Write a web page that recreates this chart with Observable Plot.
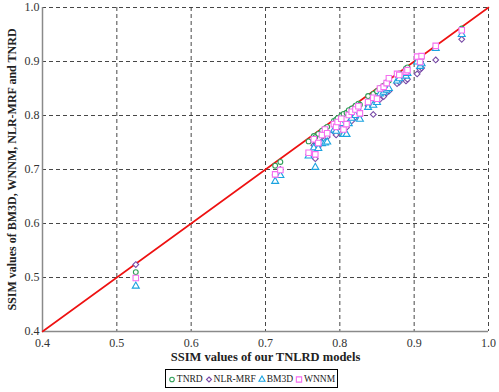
<!DOCTYPE html>
<html>
<head>
<meta charset="utf-8">
<script src="https://cdn.jsdelivr.net/npm/d3@7"></script>
<script src="https://cdn.jsdelivr.net/npm/@observablehq/plot@0.6"></script>
<style>
  body { margin: 0; background: #fff; font-family: "Liberation Serif", serif; }
  #chart { width: 499px; }
  #legend {
    position: absolute; left: 165px; top: 369px; width: 171px; height: 17px;
    border: 1.5px solid #000; background: #fff; display: flex; align-items: center;
    justify-content: space-evenly; font-family: "Liberation Serif", serif; font-size: 9.5px; color: #222;
    white-space: nowrap;
  }
  #legend span { display: flex; align-items: center; gap: 1px; }
</style>
</head>
<body>
<div id="chart"></div>
<div id="legend"></div>
<script>
const seriesNames = ["TNRD", "NLR-MRF", "BM3D", "WNNM"];
const tnlrd  = [0.5255,0.713,0.720,0.758,0.765,0.767,0.771,0.776,0.780,0.783,0.792,0.795,0.797,0.802,0.805,0.809,0.812,0.816,0.821,0.825,0.827,0.838,0.845,0.850,0.854,0.859,0.863,0.866,0.877,0.880,0.889,0.891,0.904,0.908,0.910,0.929,0.964];
const tnrd   = [0.510,0.707,0.714,0.752,0.762,0.760,0.766,0.772,0.776,0.779,0.790,0.792,0.795,0.800,0.803,0.805,0.810,0.813,0.818,0.822,0.820,0.836,0.840,0.845,0.851,0.855,0.861,0.865,0.875,0.878,0.887,0.889,0.905,0.906,0.908,0.927,0.961];
const nlrmrf = [0.524,0.690,0.700,0.728,0.745,0.720,0.742,0.752,0.755,0.760,0.770,0.764,0.778,0.782,0.770,0.778,0.787,0.790,0.797,0.805,0.800,0.818,0.802,0.829,0.830,0.835,0.842,0.845,0.859,0.862,0.864,0.867,0.877,0.885,0.888,0.903,0.941];
const bm3d   = [0.484,0.678,0.689,0.725,0.740,0.704,0.739,0.748,0.749,0.751,0.773,0.771,0.780,0.785,0.765,0.765,0.785,0.795,0.800,0.810,0.793,0.815,0.819,0.824,0.840,0.843,0.847,0.850,0.864,0.868,0.873,0.878,0.899,0.891,0.896,0.924,0.950];
const wnnm   = [0.499,0.691,0.699,0.731,0.756,0.728,0.749,0.764,0.774,0.767,0.784,0.779,0.788,0.794,0.774,0.784,0.801,0.807,0.811,0.817,0.804,0.825,0.833,0.831,0.850,0.853,0.860,0.869,0.877,0.875,0.881,0.884,0.909,0.899,0.910,0.929,0.958];
const ticks = [0.4, 0.5, 0.6, 0.7, 0.8, 0.9, 1.0];
const diagonal = [0.4, 1.0];

const colors = {"TNRD": "#2e9e57", "NLR-MRF": "#7a4ca8", "BM3D": "#1aa3e0", "WNNM": "#f56ef0"};
const symbols = {"TNRD": "circle", "NLR-MRF": "diamond2", "BM3D": "triangle", "WNNM": "square"};
const radii = {"TNRD": 2.4, "NLR-MRF": 2.6, "BM3D": 2.6, "WNNM": 3.1};
const valuesBy = {"TNRD": tnrd, "NLR-MRF": nlrmrf, "BM3D": bm3d, "WNNM": wnnm};

const rows = [];
for (const s of seriesNames) {
  valuesBy[s].forEach((v, i) => rows.push({series: s, x: tnlrd[i], y: v}));
}

const dotMarks = seriesNames.map(s => Plot.dot(rows.filter(d => d.series === s), {
  x: "x", y: "y", symbol: () => symbols[s], r: radii[s],
  stroke: colors[s], strokeWidth: 1.1, fill: "white"
}));

const chart = Plot.plot({
  width: 499, height: 366,
  marginTop: 7, marginLeft: 42, marginRight: 11, marginBottom: 35,
  style: {fontFamily: "'Liberation Serif', serif", fontSize: "12px", color: "#333", background: "white"},
  symbol: {type: "identity"},
  x: {domain: [0.4, 1.0], ticks: ticks, tickFormat: d3.format(".1f"), label: null},
  y: {domain: [0.4, 1.0], ticks: ticks, tickFormat: d3.format(".1f"), label: null},
  marks: [
    Plot.ruleX(ticks.slice(1), {stroke: "#333", strokeDasharray: "4,3", strokeWidth: 1, strokeOpacity: 0.9}),
    Plot.ruleY(ticks.slice(1), {stroke: "#333", strokeDasharray: "4,3", strokeWidth: 1, strokeOpacity: 0.9}),
    Plot.ruleX([0.4], {stroke: "#8a8a8a", strokeWidth: 1.5}),
    Plot.ruleY([0.4], {stroke: "#8a8a8a", strokeWidth: 1.5}),
    Plot.axisX({ticks: ticks, tickFormat: d3.format(".1f"), tickSize: 0, tickPadding: 7, fontSize: 12, label: null}),
    Plot.axisY({ticks: ticks, tickFormat: d3.format(".1f"), tickSize: 0, tickPadding: 3, fontSize: 12, label: null}),
    Plot.line(diagonal, {x: d => d, y: d => d, stroke: "#ee1111", strokeWidth: 1.6}),
    ...dotMarks,
    Plot.text(["SSIM values of our TNLRD models"], {
      frameAnchor: "bottom", dy: 29, text: d => d, fontWeight: "bold", fontSize: 12.5, fill: "#222"
    }),
    Plot.text(["SSIM values of BM3D, WNNM, NLR-MRF and TNRD"], {
      frameAnchor: "left", dx: -30, rotate: -90, text: d => d, fontWeight: "bold", fontSize: 12, fill: "#222", textAnchor: "middle"
    })
  ]
});
document.getElementById("chart").appendChild(chart);

const legend = document.getElementById("legend");
for (const s of seriesNames) {
  const span = document.createElement("span");
  const svg = d3.create("svg").attr("width", 8).attr("height", 8);
  svg.append("path")
    .attr("d", d3.symbol(s === "TNRD" ? d3.symbolCircle : s === "NLR-MRF" ? d3.symbolDiamond2 : s === "BM3D" ? d3.symbolTriangle : d3.symbolSquare, s === "WNNM" ? 28 : 16)())
    .attr("transform", "translate(4,4.5)")
    .attr("fill", "white").attr("stroke", colors[s]).attr("stroke-width", 1.1);
  span.appendChild(svg.node());
  span.appendChild(document.createTextNode(s));
  legend.appendChild(span);
}
</script>
</body>
</html>
